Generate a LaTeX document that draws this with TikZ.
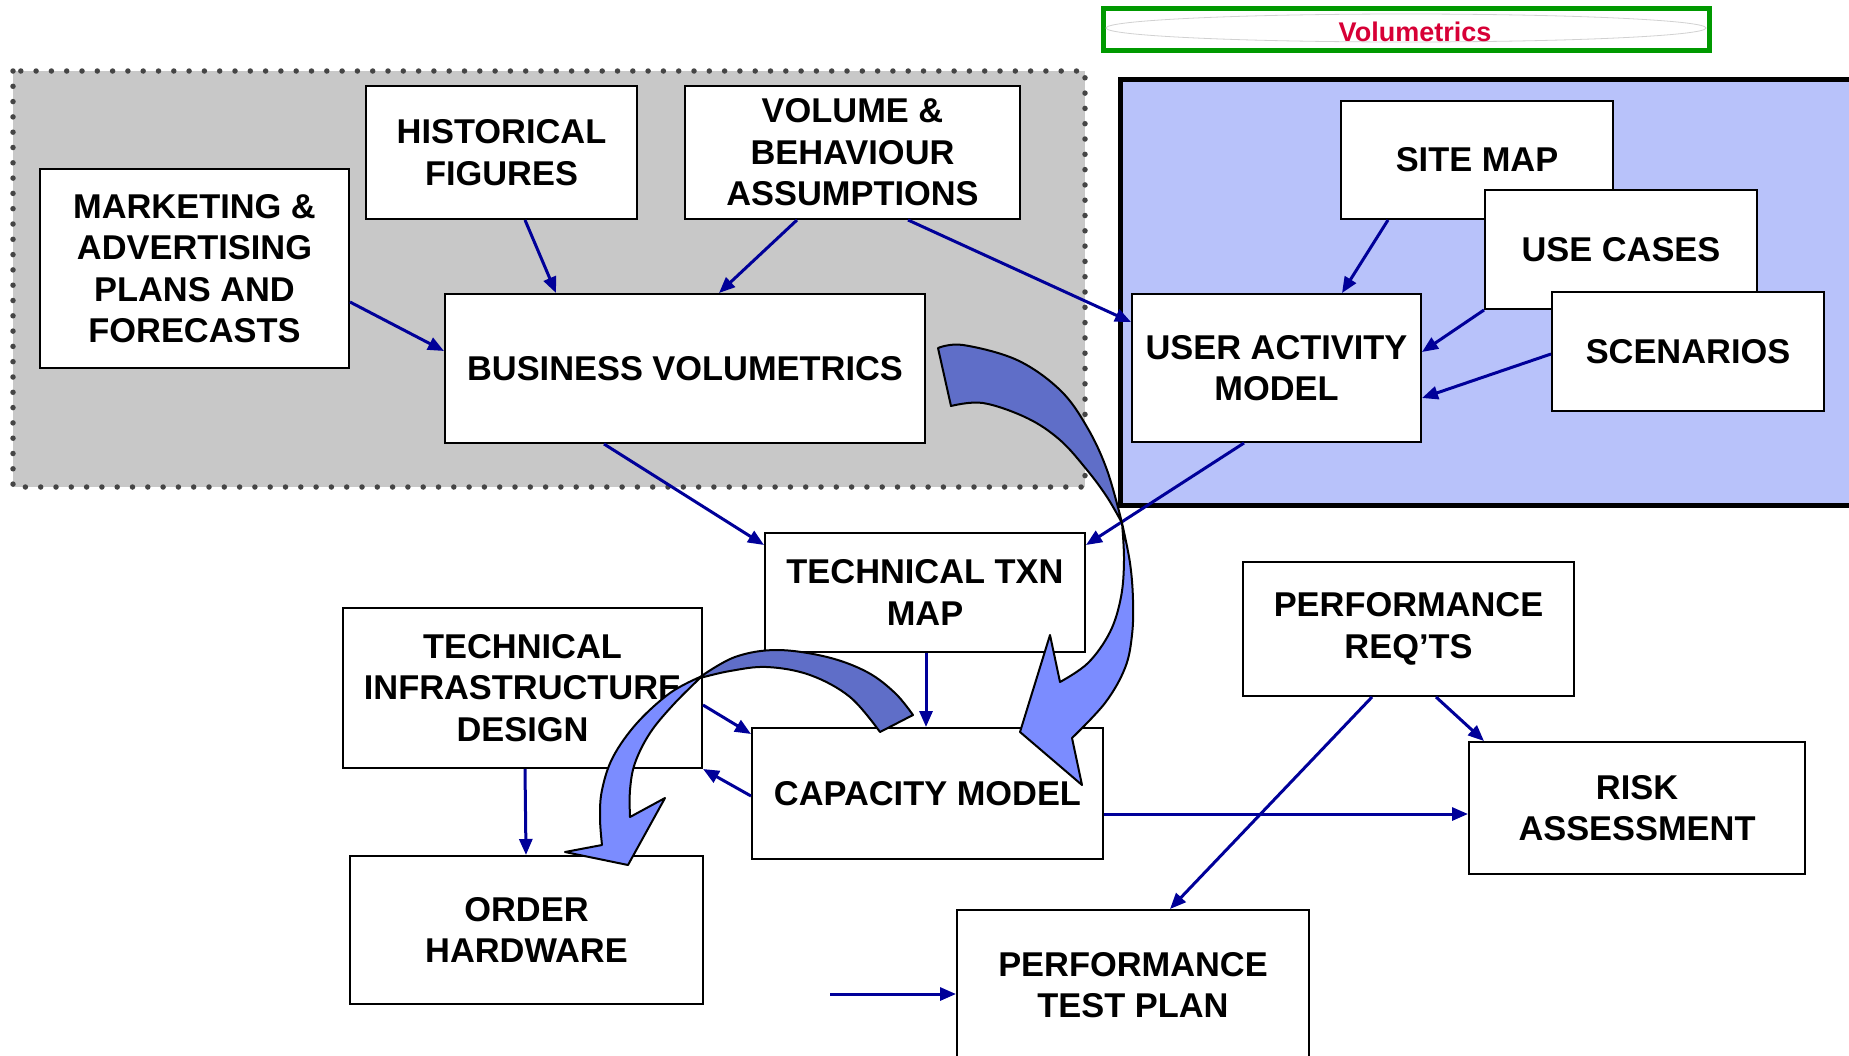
\documentclass[tikz,border=0pt]{standalone}
\usepackage{fontspec}
\setmainfont{Liberation Sans}
\usetikzlibrary{arrows.meta,calc}
\definecolor{navyarr}{HTML}{000099}
\definecolor{regiongray}{HTML}{C8C8C8}
\definecolor{dotgray}{HTML}{454545}
\definecolor{regionblue}{HTML}{B8C2FA}
\definecolor{framegreen}{HTML}{009900}
\definecolor{titlered}{HTML}{D70036}
\definecolor{arrowdark}{HTML}{5F6EC8}
\definecolor{arrowlight}{HTML}{7B8CFF}
\begin{document}
\begin{tikzpicture}[x=1pt,y=-1pt,
  box/.style={draw=black, line width=2pt, fill=white, inner sep=0pt, align=center,
    font=\fontsize{34.4}{41.5}\selectfont\bfseries},
  conn/.style={draw=navyarr, line width=3pt, -{Triangle[length=16pt,width=13pt]}},
  bigarrow/.style={draw=black, line width=2pt, line join=round},
  region/.style={line width=5pt}]
\useasboundingbox (0,0) rectangle (1849,1055);
\clip (0,0) rectangle (1849,1055);

% ---------- background regions ----------
\fill[regiongray] (13,71) rectangle (1085,487);
\draw[dotgray, line width=5.5pt, line cap=round, dash pattern=on 0pt off 15.3pt]
  (13,71) rectangle (1085,487);
\filldraw[fill=regionblue, draw=black, region] (1120.5,79) rectangle (1880,505);

% ---------- title ----------
\draw[framegreen, line width=5pt, fill=white] (1103,8) rectangle (1709,50);
\draw[black!18, line width=0.8pt] (1406,28) ellipse [x radius=300, y radius=14];
\node[text=titlered, font=\fontsize{27}{31}\selectfont\bfseries, inner sep=0pt] (title) at (1415,32) {Volumetrics};

% ---------- nodes ----------
\node[box, minimum width=309, minimum height=199] (mkt) at (194.5,268.5) {MARKETING \&\\ADVERTISING\\PLANS AND\\FORECASTS};
\node[box, minimum width=271, minimum height=133] (hist) at (501.5,152.5) {HISTORICAL\\FIGURES};
\node[box, minimum width=335, minimum height=133] (vol) at (852.5,152.5) {VOLUME \&\\BEHAVIOUR\\ASSUMPTIONS};
\node[box, minimum width=480, minimum height=149] (bv) at (685,368.5) {BUSINESS VOLUMETRICS};
\node[box, minimum width=272, minimum height=118] (site) at (1477,160) {SITE MAP};
\node[box, minimum width=272, minimum height=119] (uc) at (1621,249.5) {USE CASES};
\node[box, minimum width=272, minimum height=119] (scen) at (1688,351.5) {SCENARIOS};
\node[box, minimum width=289, minimum height=148] (uam) at (1276.5,368) {USER ACTIVITY\\MODEL};
\node[box, minimum width=320, minimum height=119] (txn) at (925,592.5) {TECHNICAL TXN\\MAP};
\node[box, minimum width=359, minimum height=160] (tid) at (522.5,688) {TECHNICAL\\INFRASTRUCTURE\\DESIGN};
\node[box, minimum width=351, minimum height=131] (cap) at (927.5,793.5) {CAPACITY MODEL};
\node[box, minimum width=353, minimum height=148] (ord) at (526.5,930) {ORDER\\HARDWARE};
\node[box, minimum width=331, minimum height=134] (prq) at (1408.5,629) {PERFORMANCE\\REQ’TS};
\node[box, minimum width=336, minimum height=132] (risk) at (1637,808) {RISK\\ASSESSMENT};
\node[box, minimum width=352, minimum height=150] (ptp) at (1133,985) {PERFORMANCE\\TEST PLAN};
\coordinate (free) at (830,994);

% ---------- connectors ----------
\draw[conn] (mkt.east |- 0,302) -- (bv.west |- 0,351);
\draw[conn] (hist.south -| 525,0) -- (bv.north -| 556,0);
\draw[conn] (vol.south -| 797,0) -- (bv.north -| 719,0);
\draw[conn] (vol.south -| 908,0) -- (uam.west |- 0,322);
\draw[conn] (site.south -| 1388,0) -- (uam.north -| 1342,0);
\draw[conn] (uc.south west) -- (uam.east |- 0,352);
\draw[conn] (scen.west |- 0,354) -- (uam.east |- 0,398);
\draw[conn] (bv.south -| 604,0) -- (txn.west |- 0,545);
\draw[conn] (uam.south -| 1244,0) -- (txn.east |- 0,545);
\draw[conn] (txn.south -| 926,0) -- (cap.north -| 926,0);
\draw[conn] (tid.east |- 0,705) -- (cap.west |- 0,734);
\draw[conn] (cap.west |- 0,796) -- (tid.south east);
\draw[conn] (tid.south -| 525,0) -- (ord.north -| 526,0);
\draw[conn] (cap.east |- 0,814) -- (risk.west |- 0,814);
\draw[conn] (prq.south -| 1372,0) -- (ptp.north -| 1170,0);
\draw[conn] (prq.south -| 1436,0) -- (risk.north -| 1484,0);
\draw[conn] (free) -- (ptp.west |- free);

% ---------- big curved arrow 1 (business volumetrics -> capacity model) ----------
\filldraw[bigarrow, fill=arrowdark]
  plot[smooth, tension=0.6] coordinates {(938,348) (963,345) (1017,360) (1060,390) (1087,427) (1107,470) (1122,523)}
  -- plot[smooth, tension=0.6] coordinates {(1122,523) (1107,497) (1087,470) (1060,440) (1027,418) (983,403) (951,406)}
  -- cycle;
\filldraw[bigarrow, fill=arrowlight]
  plot[smooth, tension=0.6] coordinates {(1122,523) (1130,563) (1133,600) (1132,635) (1125,668) (1105,703) (1072,738)}
  -- (1082,785) -- (1020,732) -- (1050,635) -- (1060,682)
  -- plot[smooth, tension=0.6] coordinates {(1060,682) (1088,663) (1110,632) (1121,597) (1124,560) (1122,523)}
  -- cycle;

% ---------- big curved arrow 2 (capacity model -> order hardware) ----------
\filldraw[bigarrow, fill=arrowdark]
  plot[smooth, tension=0.6] coordinates {(913,715) (895,693) (867,672) (827,657) (777,650) (735,657) (700,677)}
  -- plot[smooth, tension=0.6] coordinates {(700,678) (730,671) (767,667) (810,675) (850,697) (880,732)}
  -- cycle;
\filldraw[bigarrow, fill=arrowlight]
  plot[smooth, tension=0.6] coordinates {(700,677) (670,693) (637,723) (613,757) (602,790) (600,818) (602,845)}
  -- (565,852) -- (628,865) -- (665,798) -- (630,817)
  -- plot[smooth, tension=0.6] coordinates {(630,817) (630,790) (635,763) (650,733) (673,705) (700,678)}
  -- cycle;
\end{tikzpicture}
\end{document}
